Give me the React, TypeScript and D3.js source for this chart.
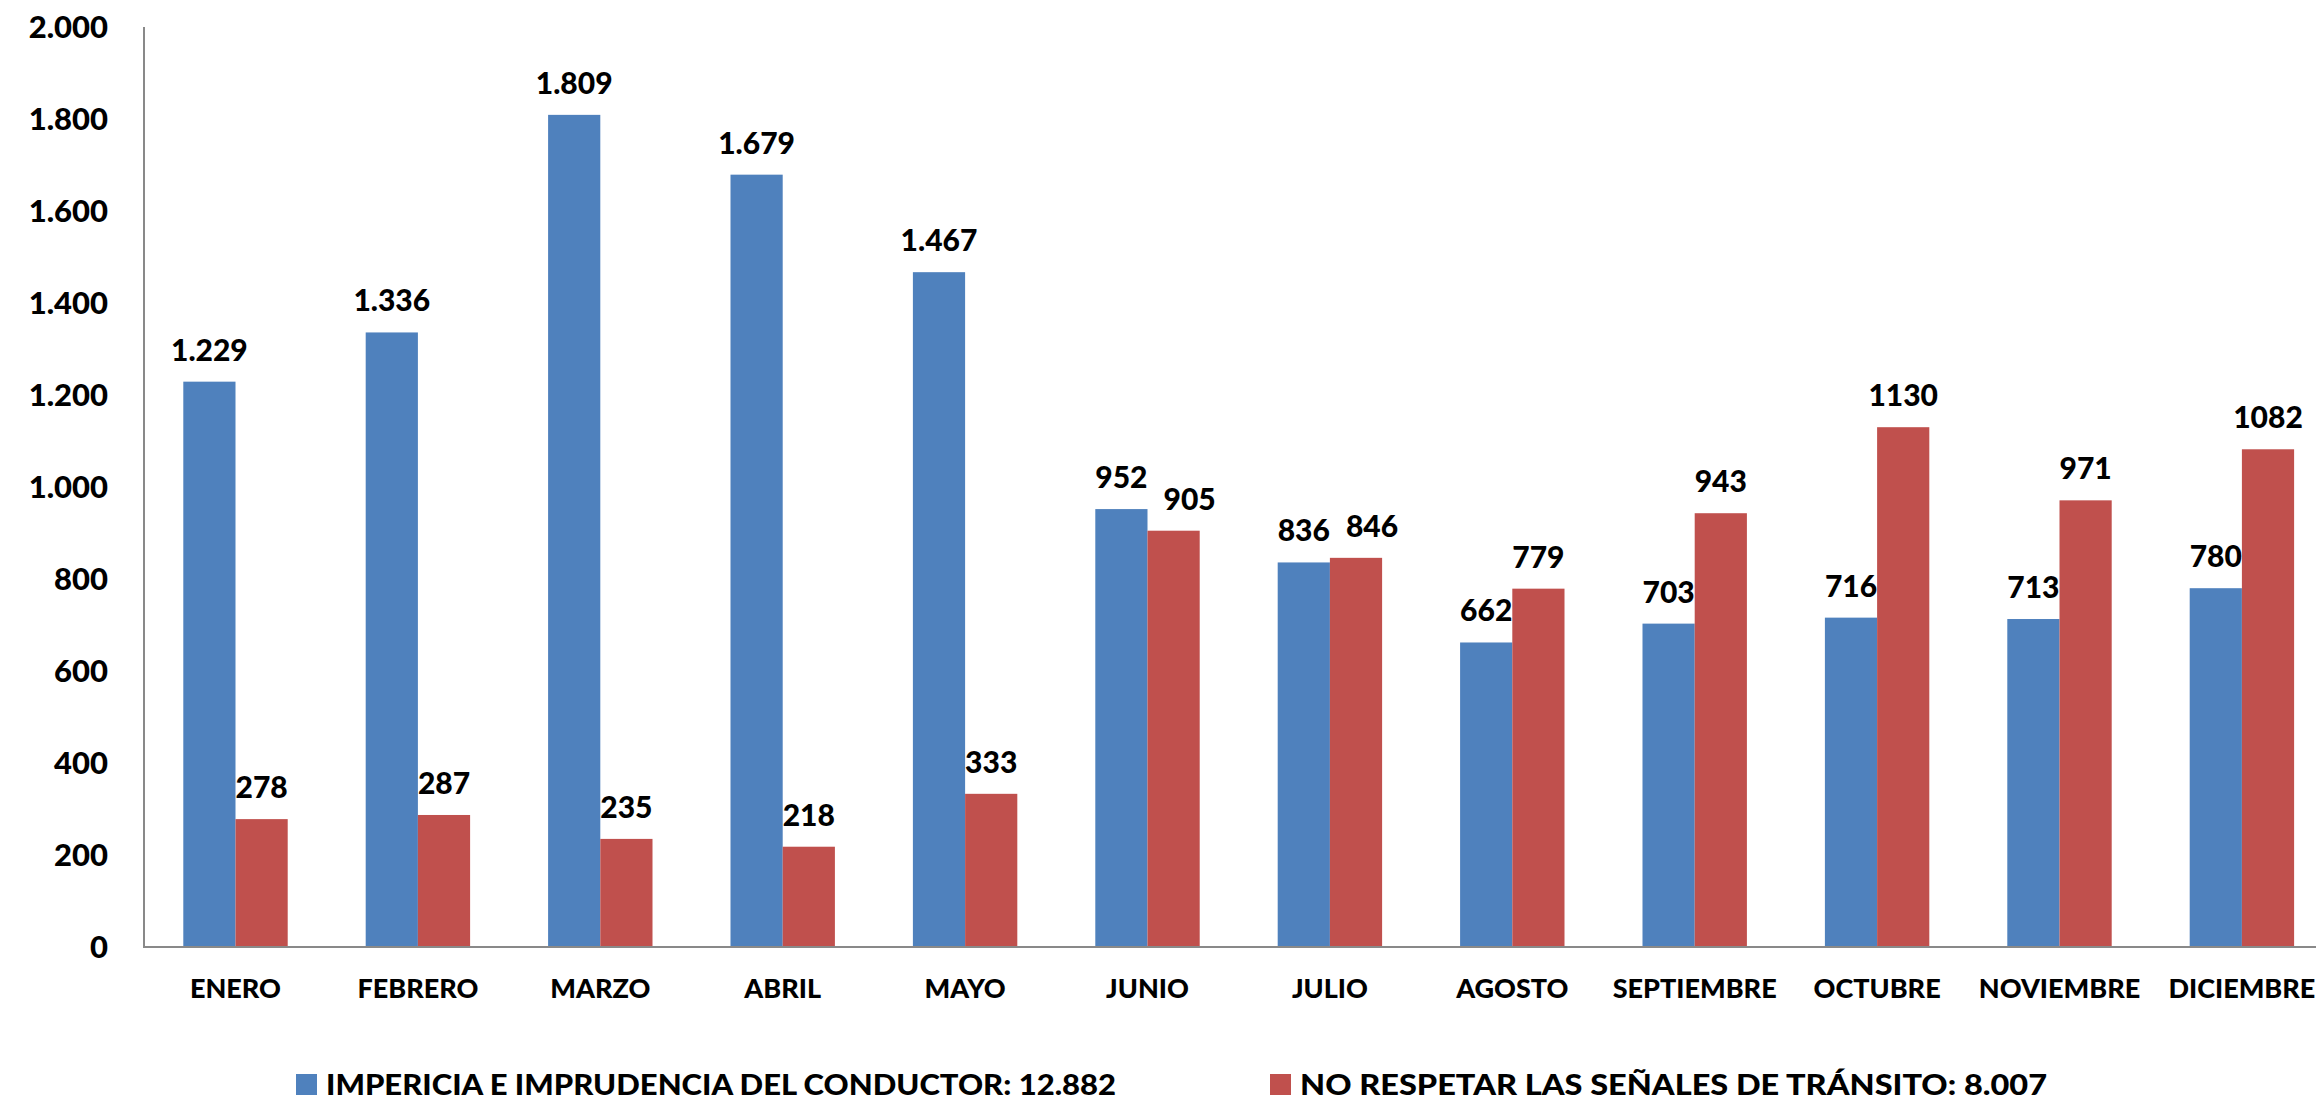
import * as React from 'react'
import * as d3 from 'd3'

const months = ['ENERO', 'FEBRERO', 'MARZO', 'ABRIL', 'MAYO', 'JUNIO', 'JULIO', 'AGOSTO', 'SEPTIEMBRE', 'OCTUBRE', 'NOVIEMBRE', 'DICIEMBRE']
const impericia = [1229, 1336, 1809, 1679, 1467, 952, 836, 662, 703, 716, 713, 780]
const senales = [278, 287, 235, 218, 333, 905, 846, 779, 943, 1130, 971, 1082]
const seriesNames = ['IMPERICIA E IMPRUDENCIA DEL CONDUCTOR: 12.882', 'NO RESPETAR LAS SEÑALES DE TRÁNSITO: 8.007']
const seriesColors = ['#4F81BD', '#C0504D']
const yTicks = [0, 200, 400, 600, 800, 1000, 1200, 1400, 1600, 1800, 2000]

const W = 2316
const H = 1102
const FONT = 'Lato, "Open Sans", sans-serif'

// Excel-style labels: 1.229 with dot thousands, the red series is shown plain
const fmtDot = (v: number) => (v >= 1000 ? d3.format(',')(v).replace(/,/g, '.') : String(v))

export default function App() {
  const svgRef = React.useRef<SVGSVGElement>(null)

  React.useEffect(() => {
    if (!svgRef.current) return
    const svg = d3.select(svgRef.current)
    svg.selectAll('*').remove()

    const left = 144.3
    const step = 182.4
    const top = 27
    const bottom = 947

    const x0 = d3.scaleBand<string>().domain(months).range([left, left + step * months.length]).padding(0)
    const x1 = d3.scaleBand<string>().domain(['a', 'b']).range([0, step]).paddingInner(0).paddingOuter(0.747)
    const y = d3.scaleLinear().domain([0, 2000]).range([bottom, top])

    // y tick labels
    svg
      .append('g')
      .selectAll('text')
      .data(yTicks)
      .join('text')
      .attr('x', 108)
      .attr('y', (d) => y(d))
      .attr('dy', '0.36em')
      .attr('text-anchor', 'end')
      .attr('font-family', FONT)
      .attr('font-weight', 900)
      .attr('font-size', '31px')
      .attr('fill', '#000')
      .text((d) => fmtDot(d))

    const groups = svg
      .append('g')
      .selectAll('g')
      .data(months)
      .join('g')
      .attr('transform', (d) => `translate(${x0(d)},0)`)

    const rows = months.map((m, i) => [
      { key: 'a', value: impericia[i], color: seriesColors[0], label: fmtDot(impericia[i]) },
      { key: 'b', value: senales[i], color: seriesColors[1], label: String(senales[i]) },
    ])

    groups
      .selectAll('rect')
      .data((_, i) => rows[i])
      .join('rect')
      .attr('x', (d) => x1(d.key)!)
      .attr('y', (d) => y(d.value))
      .attr('width', x1.bandwidth())
      .attr('height', (d) => bottom - y(d.value))
      .attr('fill', (d) => d.color)

    groups.each(function (_, i) {
      const g = d3.select(this)
      const nodes = rows[i].map((d) =>
        g
          .append('text')
          .attr('x', x1(d.key)! + x1.bandwidth() / 2)
          .attr('y', y(d.value) - 21)
          .attr('text-anchor', 'middle')
          .attr('font-family', FONT)
          .attr('font-weight', 900)
          .attr('font-size', '30px')
          .attr('fill', '#000')
          .text(d.label)
      )
      // push the red label right when it runs into the blue one
      const [a, b] = nodes.map((n) => (n.node() as SVGTextElement).getBBox())
      const vOverlap = a.y < b.y + b.height && b.y < a.y + a.height
      const gap = b.x - (a.x + a.width)
      if (vOverlap && gap < 16) nodes[1].attr('x', +nodes[1].attr('x') + (16 - gap))
    })

    // month labels
    groups
      .append('text')
      .attr('x', step / 2)
      .attr('y', 998)
      .attr('text-anchor', 'middle')
      .attr('font-family', FONT)
      .attr('font-weight', 900)
      .attr('font-size', '27px')
      .attr('fill', '#000')
      .text((d) => d)

    // axis lines
    svg.append('line').attr('x1', 144).attr('x2', 144).attr('y1', top).attr('y2', bottom).attr('stroke', '#898989').attr('stroke-width', 2)
    svg.append('line').attr('x1', 143).attr('x2', W).attr('y1', bottom).attr('y2', bottom).attr('stroke', '#898989').attr('stroke-width', 2)

    // legend
    const legendX = [296, 1270]
    const legendW = [820, 777]
    const lg = svg
      .append('g')
      .selectAll('g')
      .data(seriesNames)
      .join('g')
      .attr('transform', (_, i) => `translate(${legendX[i]},0)`)
    lg.append('rect').attr('x', 0).attr('y', 1074).attr('width', 21).attr('height', 21).attr('fill', (_, i) => seriesColors[i])
    lg.append('text')
      .attr('x', 30)
      .attr('y', 1095)
      .attr('font-family', FONT)
      .attr('font-weight', 900)
      .attr('font-size', '29px')
      .attr('fill', '#000')
      .attr('textLength', (_, i) => legendW[i] - 30)
      .attr('lengthAdjust', 'spacingAndGlyphs')
      .text((d) => d)
  }, [])

  return (
    <svg
      ref={svgRef}
      width={W}
      height={H}
      style={{ position: 'absolute', left: 0, top: 0, background: '#fff', display: 'block' }}
    />
  )
}
